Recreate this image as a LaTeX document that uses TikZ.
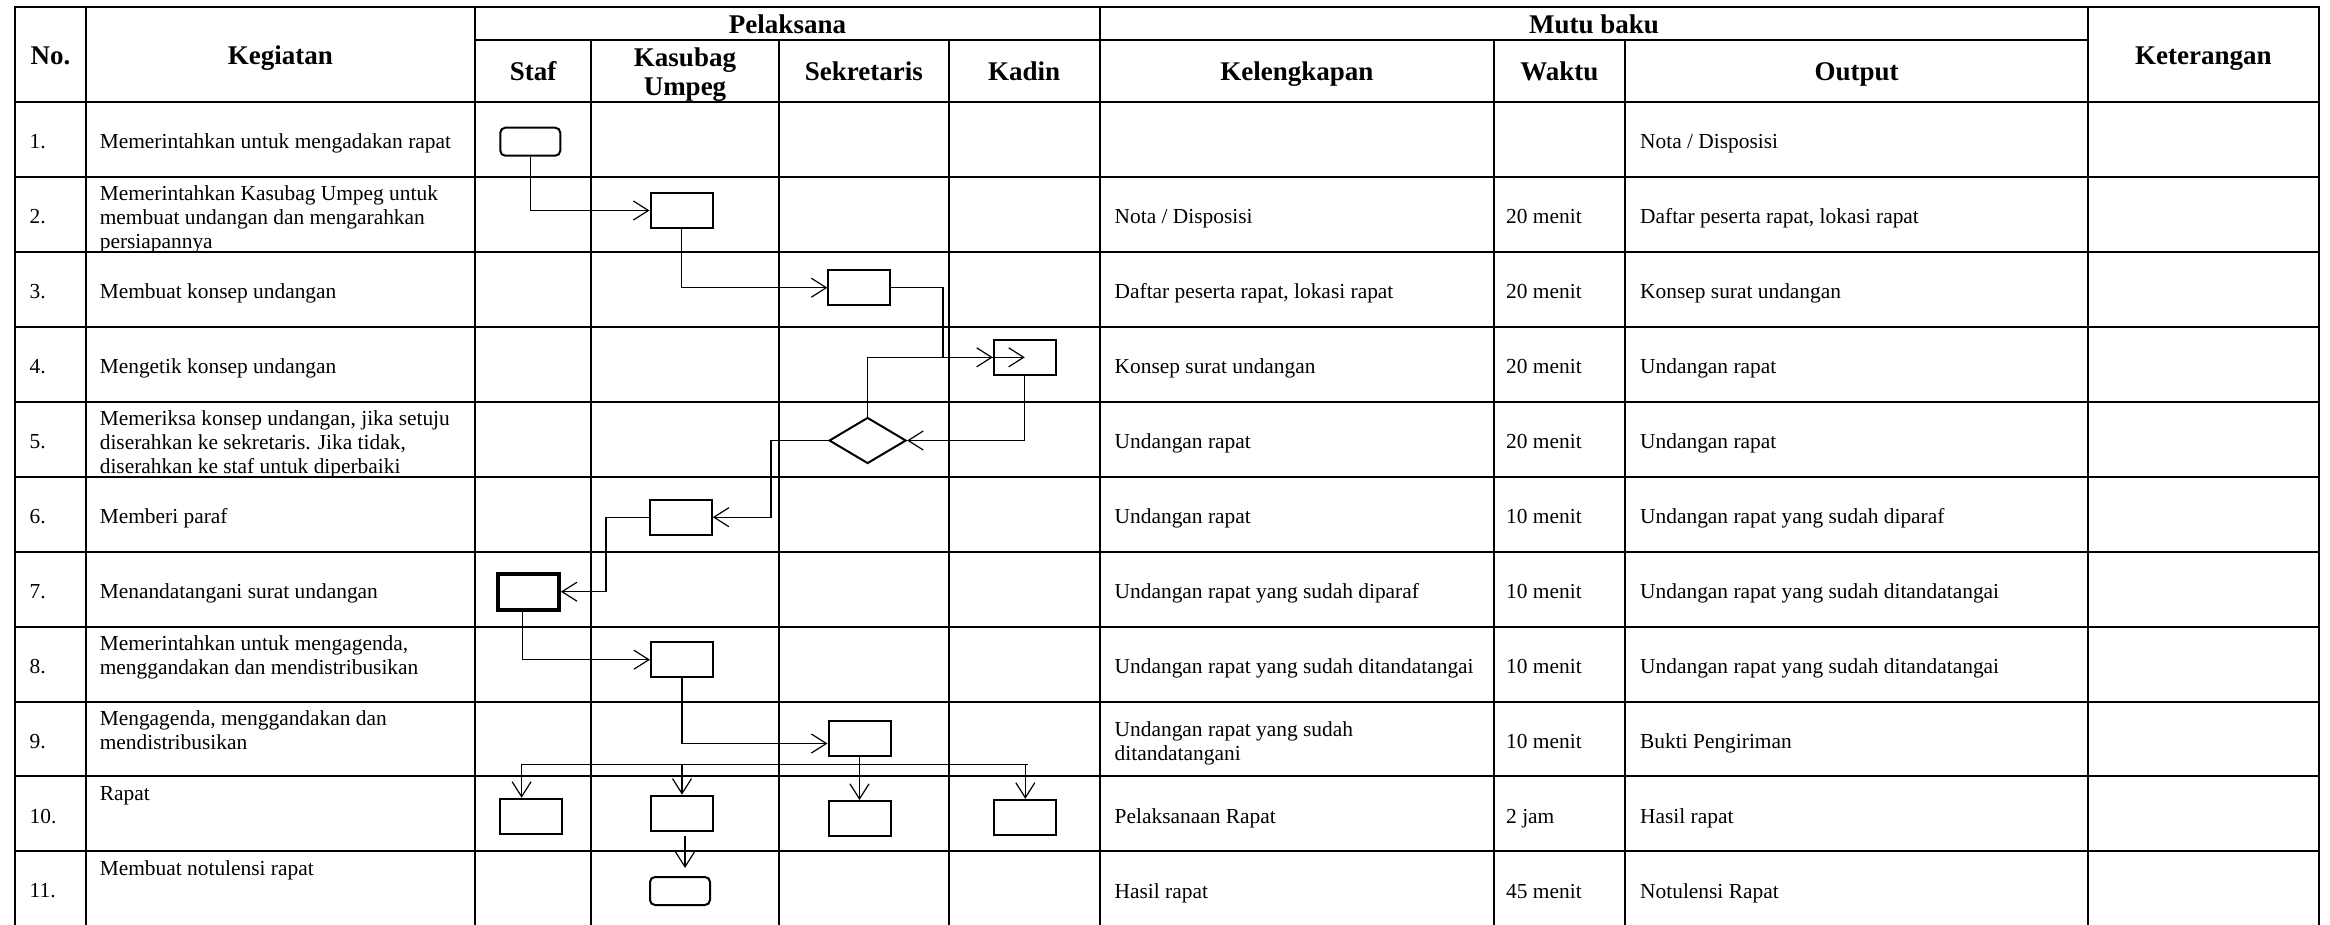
\documentclass[tikz,border=0pt]{standalone}
\usepackage{fontspec}
\setmainfont{Liberation Serif}
\usetikzlibrary{arrows.meta,shapes.geometric}
\begin{document}
\begin{tikzpicture}[x=1pt,y=-1pt,
  tline/.style={line width=2pt,line cap=rect},
  hdr/.style={font=\fontsize{27}{29.5}\selectfont\bfseries,inner sep=0pt,text height=18pt,text depth=0pt,anchor=center},
  txt/.style={font=\fontsize{21.4}{23.8}\selectfont,inner sep=0pt,anchor=mid west},
  mtxt/.style={font=\fontsize{21.4}{23.8}\selectfont,inner sep=0pt,anchor=north west,align=left},
  proc/.style={draw,line width=2pt,minimum width=62pt,minimum height=35pt,inner sep=0pt},
  term/.style={proc,rounded corners=5pt,minimum width=60pt,minimum height=28pt},
  heavy/.style={draw,line width=4pt,minimum width=61pt,minimum height=36pt,inner sep=0pt},
  decision/.style={draw,diamond,line width=2pt,minimum width=77pt,minimum height=46pt,inner sep=0pt,aspect=1.65},
  conn/.style={line width=1.2pt},
  arr/.style={conn,-{Straight Barb[length=15pt,width=19pt]}}
]
\useasboundingbox (0,0) rectangle (2330,924);
\clip (0,0) rectangle (2330,924);

% ---- table grid ----
\draw[tline] (15.4,7.3) -- (2318.7,7.3);
\draw[tline] (475,40) -- (2088,40);
\foreach \k in {0,...,10} \draw[tline] (15.4,101.9+74.95*\k) -- (2318.7,101.9+74.95*\k);
\foreach \x in {15.4,85.6,475,1100,2088,2318.7} \draw[tline] (\x,7.3) -- (\x,935);
\foreach \x in {591,779,948.5,1493.6,1625} \draw[tline] (\x,40) -- (\x,935);

% ---- header ----
\node[hdr] (hNo) at (50.5,55.5) {No.};
\node[hdr] (hKeg) at (280.3,55.5) {Kegiatan};
\node[hdr] (hPel) at (787.5,24) {Pelaksana};
\node[hdr] (hMutu) at (1594,24) {Mutu baku};
\node[hdr] (hStaf) at (533,71.5) {Staf};
\node[hdr] (hKas1) at (685,57) {Kasubag};
\node[hdr] (hKas2) at (685,86.5) {Umpeg};
\node[hdr] (hSek) at (863.8,71.5) {Sekretaris};
\node[hdr] (hKad) at (1024.2,71.5) {Kadin};
\node[hdr] (hKel) at (1296.8,71.5) {Kelengkapan};
\node[hdr] (hWak) at (1559.3,71.5) {Waktu};
\node[hdr] (hOut) at (1856.5,71.5) {Output};
\node[hdr] (hKet) at (2203.3,55.5) {Keterangan};

% ---- numbers ----
\foreach \k in {1,...,11} \node[txt] (n\k) at (29.5,101.9+74.95*\k-74.95/2+6.8) {\k.};

% ---- kegiatan ----
\node[txt] (k1) at (99.6,146.2) {Memerintahkan untuk mengadakan rapat};
\node[mtxt] (k2) at (99.6,185.6) {Memerintahkan Kasubag Umpeg untuk\\membuat undangan dan mengarahkan\\persiapannya};
\node[txt] (k3) at (99.6,296.1) {Membuat konsep undangan};
\node[txt] (k4) at (99.6,371.05) {Mengetik konsep undangan};
\node[mtxt] (k5) at (99.6,410.4) {Memeriksa konsep undangan, jika setuju\\diserahkan ke sekretaris. Jika tidak,\\diserahkan ke staf untuk diperbaiki};
\node[txt] (k6) at (99.6,520.95) {Memberi paraf};
\node[txt] (k7) at (99.6,595.9) {Menandatangani surat undangan};
\node[mtxt] (k8) at (99.6,635.3) {Memerintahkan untuk mengagenda,\\menggandakan dan mendistribusikan};
\node[mtxt] (k9) at (99.6,710.2) {Mengagenda, menggandakan dan\\mendistribusikan};
\node[txt] (k10) at (99.6,798) {Rapat};
\node[txt] (k11) at (99.6,873) {Membuat notulensi rapat};

% ---- kelengkapan ----
\node[txt] (l2) at (1114.5,221.15) {Nota / Disposisi};
\node[txt] (l3) at (1114.5,296.1) {Daftar peserta rapat, lokasi rapat};
\node[txt] (l4) at (1114.5,371.05) {Konsep surat undangan};
\node[txt] (l5) at (1114.5,446) {Undangan rapat};
\node[txt] (l6) at (1114.5,520.95) {Undangan rapat};
\node[txt] (l7) at (1114.5,595.9) {Undangan rapat yang sudah diparaf};
\node[txt] (l8) at (1114.5,670.85) {Undangan rapat yang sudah ditandatangai};
\node[mtxt] (l9) at (1114.5,721.7) {Undangan rapat yang sudah\\ditandatangani};
\node[txt] (l10) at (1114.5,820.75) {Pelaksanaan Rapat};
\node[txt] (l11) at (1114.5,895.7) {Hasil rapat};

% ---- waktu ----
\node[txt] (w2) at (1506,221.15) {20 menit};
\node[txt] (w3) at (1506,296.1) {20 menit};
\node[txt] (w4) at (1506,371.05) {20 menit};
\node[txt] (w5) at (1506,446) {20 menit};
\node[txt] (w6) at (1506,520.95) {10 menit};
\node[txt] (w7) at (1506,595.9) {10 menit};
\node[txt] (w8) at (1506,670.85) {10 menit};
\node[txt] (w9) at (1506,745.8) {10 menit};
\node[txt] (w10) at (1506,820.75) {2 jam};
\node[txt] (w11) at (1506,895.7) {45 menit};

% ---- output ----
\node[txt] (o1) at (1640,146.2) {Nota / Disposisi};
\node[txt] (o2) at (1640,221.15) {Daftar peserta rapat, lokasi rapat};
\node[txt] (o3) at (1640,296.1) {Konsep surat undangan};
\node[txt] (o4) at (1640,371.05) {Undangan rapat};
\node[txt] (o5) at (1640,446) {Undangan rapat};
\node[txt] (o6) at (1640,520.95) {Undangan rapat yang sudah diparaf};
\node[txt] (o7) at (1640,595.9) {Undangan rapat yang sudah ditandatangai};
\node[txt] (o8) at (1640,670.85) {Undangan rapat yang sudah ditandatangai};
\node[txt] (o9) at (1640,745.8) {Bukti Pengiriman};
\node[txt] (o10) at (1640,820.75) {Hasil rapat};
\node[txt] (o11) at (1640,895.7) {Notulensi Rapat};

% ---- flowchart symbols ----
\node[term] (b1) at (530.3,141.7) {};
\node[proc] (b2) at (681.5,210.5) {};
\node[proc] (b3) at (859.4,287.7) {};
\node[proc] (b4) at (1024.8,357.3) {};
\node[decision] (d5) at (867.6,440.5) {};
\node[proc] (b6) at (680.8,517.2) {};
\node[heavy] (b7) at (528.4,591.7) {};
\node[proc] (b8) at (682,659.7) {};
\node[proc] (b9) at (859.5,738.5) {};
\node[proc] (b10a) at (531,816.3) {};
\node[proc] (b10b) at (682,813.2) {};
\node[proc] (b10c) at (859.5,818.5) {};
\node[proc] (b10d) at (1025.3,817.3) {};
\node[term] (b11) at (680,891) {};

\coordinate (c3) at (943,357.3);
\coordinate (c5) at (771,517.2);
\coordinate (c6) at (606,591.7);
\coordinate (hl) at (521.6,764.3);
\coordinate (hr) at (1028,764.3);

% ---- connectors ----
\draw[arr] (b1.south) |- (b2.west);
\draw[arr] (b2.south) |- (b3.west);
\draw[arr] (b3.east) -| (c3) -- (b4.west);
\draw[arr] (d5.north) |- (b4.center);
\draw[arr] (b4.south) |- (d5.east);
\draw[arr] (d5.west) -| (c5) -- (b6.east);
\draw[arr] (b6.west) -| (c6) -- (b7.east);
\draw[arr] ([xshift=-6pt]b7.south) |- (b8.west);
\draw[arr] (b8.south) |- ([yshift=-5pt]b9.west);
\draw[conn] (hl) -- (hr);
\draw[arr] (b9.south) -- (b10c.north);
\draw[arr] (hl) -- (hl |- b10a.north);
\draw[arr] (b10b.north |- hl) -- (b10b.north);
\draw[arr] (b10d.north |- hl) -- (b10d.north);
\draw[arr] ([xshift=3pt,yshift=-4pt]b10b.south) -- ([xshift=5pt,yshift=8pt]b11.north);
\end{tikzpicture}
\end{document}
